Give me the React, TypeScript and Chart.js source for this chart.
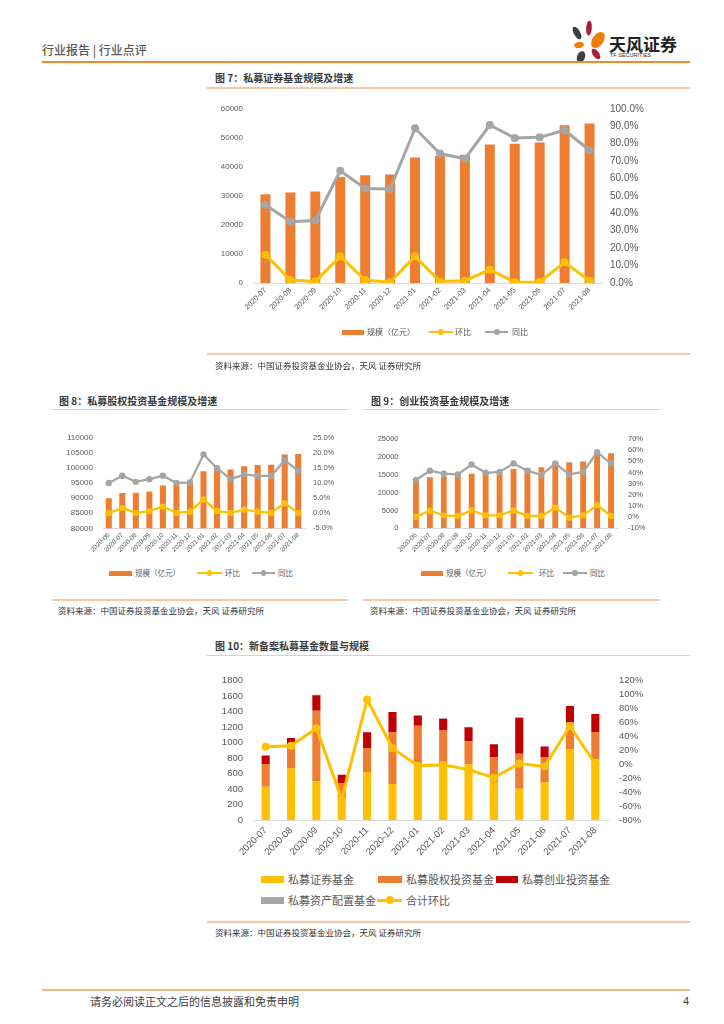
import React, { useEffect, useRef } from 'react';
import { Chart, registerables } from 'chart.js';
Chart.register(...registerables);

const NUMF = "'Liberation Sans', 'Noto Sans CJK SC', sans-serif";
const CJK = "'Noto Sans CJK SC', 'Liberation Sans', sans-serif";
const ORANGE = '#ED7D31';
const YELLOW = '#FFC000';
const GRAY = '#A5A5A5';
const RED = '#C00000';
const TICK = '#595959';
const LINE_LIGHT = '#F8C9A0';

// ---------- 图7 ----------
const months7 = ['2020-07', '2020-08', '2020-09', '2020-10', '2020-11', '2020-12', '2021-01', '2021-02', '2021-03', '2021-04', '2021-05', '2021-06', '2021-07', '2021-08'];
const scale7 = [30600, 31200, 31500, 36500, 37100, 37400, 43250, 43700, 44200, 47700, 48000, 48400, 54300, 54900];
const hb7 = [16.2, 1.7, 0.8, 15.3, 1.7, 0.5, 15.3, 0.9, 1.3, 7.6, 0.5, 0.6, 11.9, 1.3];
const tb7 = [44.9, 35.2, 35.9, 64.4, 54.2, 54.0, 88.8, 74.3, 71.3, 90.7, 83.2, 83.6, 87.7, 76.2];

// ---------- 图8 ----------
const months8 = ['2020-06', '2020-07', '2020-08', '2020-09', '2020-10', '2020-11', '2020-12', '2021-01', '2021-02', '2021-03', '2021-04', '2021-05', '2021-06', '2021-07', '2021-08'];
const scale8 = [90000, 91700, 91800, 92200, 94200, 94400, 94900, 98900, 99400, 99500, 100600, 101000, 101100, 104500, 104600];
const hb8 = [0.0, 1.7, 0.1, 0.7, 2.2, 0.1, 0.5, 4.6, 0.7, 0.1, 1.2, 0.5, 0.1, 3.3, 0.1];
const tb8 = [10.0, 12.4, 10.4, 11.3, 12.4, 10.0, 10.2, 19.5, 14.9, 11.3, 12.9, 12.4, 12.4, 17.5, 14.1];

// ---------- 图9 ----------
const months9 = ['2020-06', '2020-07', '2020-08', '2020-09', '2020-10', '2020-11', '2020-12', '2021-01', '2021-02', '2021-03', '2021-04', '2021-05', '2021-06', '2021-07', '2021-08'];
const scale9 = [13800, 14300, 14500, 14600, 15300, 15400, 15600, 16600, 16800, 17100, 18400, 18500, 18700, 20700, 21000];
const hb9 = [0.4, 5.7, 1.6, 1.0, 6.0, 1.6, 1.6, 6.0, 1.0, 1.0, 8.5, -0.4, 1.6, 10.7, 1.0];
const tb9 = [33.3, 41.6, 38.9, 38.3, 47.1, 39.7, 40.5, 48.0, 41.6, 37.7, 48.0, 38.3, 40.5, 58.2, 48.0];

// ---------- 图10 ----------
const months10 = ['2020-07', '2020-08', '2020-09', '2020-10', '2020-11', '2020-12', '2021-01', '2021-02', '2021-03', '2021-04', '2021-05', '2021-06', '2021-07', '2021-08'];
const sec10 = [430, 670, 500, 260, 620, 465, 710, 710, 720, 495, 405, 485, 910, 785];
const eq10 = [295, 310, 912, 215, 310, 665, 508, 446, 293, 320, 451, 321, 349, 351];
const vc10 = [110, 80, 200, 110, 205, 265, 132, 153, 185, 164, 465, 145, 214, 235];
const alloc10 = [0, 0, 5, 0, 3, 0, 0, 5, 3, 0, 5, 3, 0, 0];
const total10 = [25.3, 26.7, 51.8, -50.2, 93.0, 23.0, -2.2, -0.8, -7.7, -19.2, 1.0, -3.1, 55.0, 0.0];

type Box = { left: number; top: number; width: number; height: number };
type Plot = { l: number; t: number; r: number; b: number };

function yAxis(position: string, width: number, min: number, max: number, step: number, fmt: (v: number) => string, size: number, pad: number, stacked = false) {
  return {
    position, min, max, stacked,
    grid: { display: false, drawTicks: false },
    border: { display: false },
    ticks: { stepSize: step, autoSkip: false, padding: pad, color: TICK, font: { family: NUMF, size }, callback: (v: any) => fmt(Number(v)) },
    afterFit: (s: any) => { s.width = width; },
  };
}

function xAxis(height: number, size: number, pad: number, stacked = false) {
  return {
    offset: true, stacked,
    grid: { display: false, drawTicks: false },
    border: { display: true, color: '#D9D9D9', width: 1 },
    ticks: { autoSkip: false, maxRotation: 45, minRotation: 45, padding: pad, color: TICK, font: { family: NUMF, size } },
    afterFit: (s: any) => { s.height = height; },
  };
}

function lineDs(label: string, data: number[], color: string, width: number, r: number, order: number) {
  return {
    type: 'line', label, data, yAxisID: 'y1', order,
    borderColor: color, backgroundColor: color, borderWidth: width,
    pointRadius: r, pointHoverRadius: r, pointBackgroundColor: color, pointBorderColor: color, pointBorderWidth: 0,
    tension: 0,
  };
}

function baseOptions(box: Box, plot: Plot, scales: any) {
  return {
    responsive: false,
    animation: false,
    events: [],
    layout: { padding: { top: plot.t - box.top, left: 0, right: 0, bottom: 0 } },
    plugins: { legend: { display: false }, tooltip: { enabled: false }, title: { display: false } },
    scales,
  };
}

const box7: Box = { left: 200, top: 94, width: 454, height: 236 };
const plot7: Plot = { l: 253, t: 104, r: 602, b: 283 };
const box8: Box = { left: 50, top: 424, width: 300, height: 140 };
const plot8: Plot = { l: 102, t: 431.7, r: 305, b: 528.3 };
const box9: Box = { left: 355, top: 424, width: 310, height: 140 };
const plot9: Plot = { l: 409, t: 431.7, r: 618, b: 528.3 };
const box10: Box = { left: 200, top: 664, width: 460, height: 205 };
const plot10: Plot = { l: 253, t: 674.3, r: 608, b: 820 };

function dims(box: Box, plot: Plot) {
  return { lw: plot.l - box.left, rw: box.left + box.width - plot.r, xh: box.top + box.height - plot.b };
}

function config7() {
  const d = dims(box7, plot7);
  return {
    type: 'bar',
    data: {
      labels: months7,
      datasets: [
        lineDs('环比', hb7, YELLOW, 3, 4, 0),
        lineDs('同比', tb7, GRAY, 3, 4, 1),
        { type: 'bar', label: '规模（亿元）', data: scale7, yAxisID: 'y', backgroundColor: ORANGE, barPercentage: 0.4, categoryPercentage: 1, order: 2 },
      ],
    },
    options: baseOptions(box7, plot7, {
      x: xAxis(d.xh, 7.5, 3),
      y: yAxis('left', d.lw, 0, 60000, 10000, (v) => String(v), 8, 10),
      y1: yAxis('right', d.rw, 0, 100, 10, (v) => v.toFixed(1) + '%', 10, 8),
    }),
  };
}

function config8() {
  const d = dims(box8, plot8);
  return {
    type: 'bar',
    data: {
      labels: months8,
      datasets: [
        lineDs('环比', hb8, YELLOW, 2.3, 3.2, 0),
        lineDs('同比', tb8, GRAY, 2.3, 3.2, 1),
        { type: 'bar', label: '规模（亿元）', data: scale8, yAxisID: 'y', backgroundColor: ORANGE, barPercentage: 0.45, categoryPercentage: 1, order: 2 },
      ],
    },
    options: baseOptions(box8, plot8, {
      x: xAxis(d.xh, 6.5, 3),
      y: yAxis('left', d.lw, 80000, 110000, 5000, (v) => String(v), 8, 9),
      y1: yAxis('right', d.rw, -5, 25, 5, (v) => v.toFixed(1) + '%', 7.5, 8),
    }),
  };
}

function config9() {
  const d = dims(box9, plot9);
  return {
    type: 'bar',
    data: {
      labels: months9,
      datasets: [
        lineDs('环比', hb9, YELLOW, 2.3, 3.2, 0),
        lineDs('同比', tb9, GRAY, 2.3, 3.2, 1),
        { type: 'bar', label: '规模（亿元）', data: scale9, yAxisID: 'y', backgroundColor: ORANGE, barPercentage: 0.42, categoryPercentage: 1, order: 2 },
      ],
    },
    options: baseOptions(box9, plot9, {
      x: xAxis(d.xh, 6.5, 3),
      y: yAxis('left', d.lw, 0, 25000, 5000, (v) => String(v), 7.5, 10.5),
      y1: yAxis('right', d.rw, -10, 70, 10, (v) => Math.round(v) + '%', 7.5, 10),
    }),
  };
}

function config10() {
  const d = dims(box10, plot10);
  const bar = (label: string, data: number[], color: string) => ({
    type: 'bar', label, data, yAxisID: 'y', backgroundColor: color, barPercentage: 0.32, categoryPercentage: 1, order: 1, stack: 's',
  });
  return {
    type: 'bar',
    data: {
      labels: months10,
      datasets: [
        bar('私募证券基金', sec10, YELLOW),
        bar('私募股权投资基金', eq10, ORANGE),
        bar('私募创业投资基金', vc10, RED),
        bar('私募资产配置基金', alloc10, GRAY),
        lineDs('合计环比', total10, YELLOW, 3, 4, 0),
      ],
    },
    options: baseOptions(box10, plot10, {
      x: xAxis(d.xh, 9.5, 5, true),
      y: yAxis('left', d.lw, 0, 1800, 200, (v) => String(v), 9.5, 10, true),
      y1: yAxis('right', d.rw, -80, 120, 20, (v) => Math.round(v) + '%', 9.5, 11),
    }),
  };
}

function ChartBox({ box, make }: { box: Box; make: () => any }) {
  const ref = useRef<HTMLCanvasElement>(null);
  useEffect(() => {
    const chart = new Chart(ref.current as HTMLCanvasElement, make());
    return () => chart.destroy();
  }, []);
  return (
    <canvas
      ref={ref}
      width={box.width}
      height={box.height}
      style={{ position: 'absolute', left: box.left, top: box.top, width: box.width, height: box.height }}
    />
  );
}

function T({ x, y, size, color = '#333', weight = 400, family = CJK, children }: any) {
  return (
    <div style={{ position: 'absolute', left: x, top: y, transform: 'translateY(-50%)', fontSize: size, color, fontWeight: weight, fontFamily: family, lineHeight: 1, whiteSpace: 'nowrap' }}>
      {children}
    </div>
  );
}

function HLine({ x1, x2, y, color, w }: any) {
  return <div style={{ position: 'absolute', left: x1, top: y - w / 2, width: x2 - x1, height: w, background: color }} />;
}

function LRect({ x1, x2, y, h, color }: any) {
  return <div style={{ position: 'absolute', left: x1, top: y - h / 2, width: x2 - x1, height: h, background: color }} />;
}

function LLine({ x1, x2, y, w, r, color }: any) {
  const cx = (x1 + x2) / 2;
  return (
    <>
      <div style={{ position: 'absolute', left: x1, top: y - w / 2, width: x2 - x1, height: w, background: color }} />
      <div style={{ position: 'absolute', left: cx - r, top: y - r, width: 2 * r, height: 2 * r, borderRadius: '50%', background: color }} />
    </>
  );
}

function Logo() {
  return (
    <>
      <svg style={{ position: 'absolute', left: 566, top: 20 }} width={44} height={46} viewBox="566 20 44 46">
        <ellipse cx={577} cy={33} rx={3.2} ry={7} fill="#3F3F3F" transform="rotate(-30 577 33)" />
        <ellipse cx={589} cy={28} rx={2.8} ry={7.5} fill="#A3203A" transform="rotate(5 589 28)" />
        <ellipse cx={598} cy={40} rx={5.5} ry={9} fill="#EE7D00" transform="rotate(35 598 40)" />
        <ellipse cx={579} cy={45} rx={5} ry={3} fill="#EE7D00" transform="rotate(-10 579 45)" />
        <ellipse cx={596} cy={54} rx={3.2} ry={6} fill="#A3203A" transform="rotate(-35 596 54)" />
        <ellipse cx={581} cy={57} rx={4} ry={6} fill="#3F3F3F" transform="rotate(20 581 57)" />
      </svg>
      <T x={609} y={43} size={17} color="#222" weight={700}>天风证券</T>
      <T x={610} y={56} size={5.5} color="#333" family={NUMF}>TF SECURITIES</T>
    </>
  );
}

export default function App() {
  const src = '资料来源：中国证券投资基金业协会，天风 证券研究所';
  return (
    <div style={{ position: 'absolute', left: 0, top: 0, width: 724, height: 1024, background: '#fff', overflow: 'hidden' }}>
      {/* header */}
      <T x={42} y={50} size={12} color="#595959" weight={500}>行业报告 | 行业点评</T>
      <Logo />
      <HLine x1={42} x2={690} y={62} color="#F08A2C" w={2} />

      {/* 图7 */}
      <T x={215} y={78} size={10} color="#3A3A3A" weight={700}>图 7：私募证券基金规模及增速</T>
      <HLine x1={207} x2={690} y={88} color={LINE_LIGHT} w={1.5} />
      <ChartBox box={box7} make={config7} />
      <LRect x1={342} x2={364} y={332} h={5} color={ORANGE} />
      <T x={367} y={332} size={8} color={TICK}>规模（亿元）</T>
      <LLine x1={429} x2={453} y={332} w={2.5} r={3} color={YELLOW} />
      <T x={455} y={332} size={8} color={TICK}>环比</T>
      <LLine x1={485} x2={508} y={332} w={2.5} r={3} color={GRAY} />
      <T x={512} y={332} size={8} color={TICK}>同比</T>
      <HLine x1={207} x2={690} y={354} color={LINE_LIGHT} w={1.5} />
      <T x={215} y={364.5} size={8.5} color="#333">{src}</T>

      {/* 图8 */}
      <T x={59} y={400.5} size={10} color="#3A3A3A" weight={700}>图 8：私募股权投资基金规模及增速</T>
      <HLine x1={52} x2={348} y={409.5} color={LINE_LIGHT} w={1.5} />
      <ChartBox box={box8} make={config8} />
      <LRect x1={109} x2={131.5} y={573} h={5} color={ORANGE} />
      <T x={135} y={573} size={7.5} color={TICK}>规模（亿元）</T>
      <LLine x1={197} x2={222} y={573} w={2.3} r={2.8} color={YELLOW} />
      <T x={225} y={573} size={7.5} color={TICK}>环比</T>
      <LLine x1={252} x2={275} y={573} w={2.3} r={2.8} color={GRAY} />
      <T x={278} y={573} size={7.5} color={TICK}>同比</T>
      <HLine x1={52} x2={348} y={600} color={LINE_LIGHT} w={1.5} />
      <T x={58} y={609.5} size={8.5} color="#333">{src}</T>

      {/* 图9 */}
      <T x={371} y={400.5} size={10} color="#3A3A3A" weight={700}>图 9：创业投资基金规模及增速</T>
      <HLine x1={363} x2={660} y={409.5} color={LINE_LIGHT} w={1.5} />
      <ChartBox box={box9} make={config9} />
      <LRect x1={421} x2={443} y={573} h={5} color={ORANGE} />
      <T x={446} y={573} size={7.5} color={TICK}>规模（亿元）</T>
      <LLine x1={508} x2={533} y={573} w={2.3} r={2.8} color={YELLOW} />
      <T x={539} y={573} size={7.5} color={TICK}>环比</T>
      <LLine x1={563} x2={587} y={573} w={2.3} r={2.8} color={GRAY} />
      <T x={590} y={573} size={7.5} color={TICK}>同比</T>
      <HLine x1={363} x2={660} y={600} color={LINE_LIGHT} w={1.5} />
      <T x={370} y={609.5} size={8.5} color="#333">{src}</T>

      {/* 图10 */}
      <T x={215} y={646} size={10} color="#3A3A3A" weight={700}>图 10：新备案私募基金数量与规模</T>
      <HLine x1={207} x2={690} y={655.5} color={LINE_LIGHT} w={1.5} />
      <ChartBox box={box10} make={config10} />
      <LRect x1={261} x2={284} y={879} h={7} color={YELLOW} />
      <T x={288} y={879} size={11} color={TICK}>私募证券基金</T>
      <LRect x1={378} x2={402} y={879} h={7} color={ORANGE} />
      <T x={406} y={879} size={11} color={TICK}>私募股权投资基金</T>
      <LRect x1={496} x2={518} y={879} h={7} color={RED} />
      <T x={522} y={879} size={11} color={TICK}>私募创业投资基金</T>
      <LRect x1={261} x2={284} y={900} h={7} color={GRAY} />
      <T x={288} y={900} size={11} color={TICK}>私募资产配置基金</T>
      <LLine x1={377} x2={402} y={900} w={3} r={4} color={YELLOW} />
      <T x={406} y={900} size={11} color={TICK}>合计环比</T>
      <HLine x1={207} x2={690} y={922} color={LINE_LIGHT} w={1.5} />
      <T x={215} y={932} size={8.5} color="#333">{src}</T>

      {/* footer */}
      <HLine x1={42} x2={690} y={990} color="#F5B880" w={1.5} />
      <T x={90} y={1001} size={11} color="#404040">请务必阅读正文之后的信息披露和免责申明</T>
      <T x={683} y={1001} size={11} color="#404040" family={NUMF}>4</T>
    </div>
  );
}
